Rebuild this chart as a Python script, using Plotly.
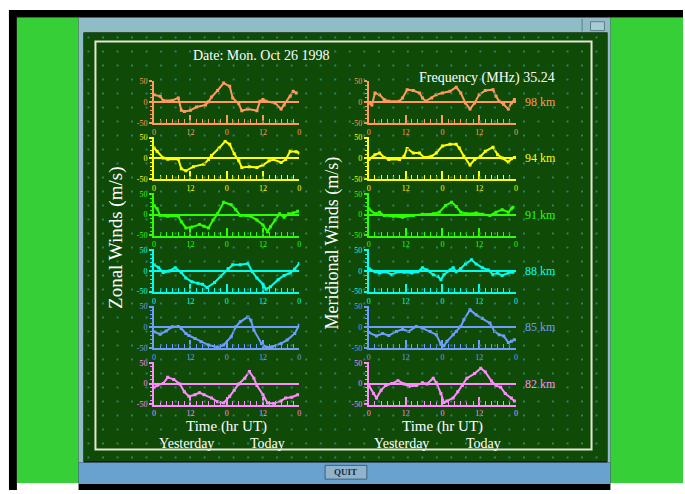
import numpy as np
import plotly.graph_objects as go

W, H = 685, 494

# ---- data: hours since 00 UT yesterday, winds in m/s ----
heights = ["98 km", "94 km", "91 km", "88 km", "85 km", "82 km"]
colors = ["#ff9a5c", "#ffff00", "#2cff00", "#00ffee", "#6f9cff", "#ff8cff"]
hour_ticks = [0, 12, 24, 36, 48]
hour_labels = ["0", "12", "0", "12", "0"]

z98_t = [0, 2, 3, 6, 8, 9, 10, 12, 14, 17, 18, 19, 21, 23, 25, 26, 28, 29, 31, 34, 35, 36, 37, 40, 42, 43, 45, 46, 47]
z98_u = [18, 14, 4, 4, 10, -20, -23, -20, -12, -7, 1, 12, 28, 46, 38, 10, -4, -21, -17, -21, 2, 6, 2, -2, -17, -7, 14, 26, 22]

z94_t = [0, 1, 3, 4.5, 8, 9, 10.5, 13, 16.5, 18, 19, 21.5, 23.5, 25, 26.5, 28, 29, 31.5, 34, 36, 38, 39.5, 42, 43.5, 45, 47, 48]
z94_u = [25, 17, 1, -2, -2, -25, -30, -20, -14, -3, 7, 25, 41, 34, 11, -6, -22, -20, -22, -16, -6, -3, -10, -3, 17, 16, 13]

z91_t = [0, 1, 2, 4.5, 8, 9, 10.5, 12.5, 15, 16.5, 18, 19.5, 21, 23, 25.5, 27, 28.5, 32, 34, 36, 37.5, 38.5, 40, 41.5, 43, 44.5, 46, 47.5]
z91_u = [22, 14, -2, -4, -4, -17, -32, -30, -24, -28, -32, -13, 2, 30, 24, 12, -2, -4, -13, -25, -41, -29, -13, 2, -6, 2, 4, 8]

z88_t = [0, 1.5, 3, 5, 7, 9, 10.5, 12.5, 14.5, 16, 17.5, 20, 22, 24.5, 26, 28.5, 31, 32.5, 34, 36, 37, 38.5, 41, 43, 45, 46.5, 48]
z88_u = [15, 8, -4, 0, 8, -4, -17, -26, -30, -32, -40, -28, -13, 6, 15, 15, 18, -2, -17, -32, -44, -38, -21, -11, -5, 5, 18]

z85_t = [0, 2, 4, 6, 8, 9, 10.5, 11.5, 13.5, 15.5, 18, 21, 23, 25.5, 27, 28.5, 31, 32, 33, 35.5, 37, 39, 42, 44, 46.5, 48]
z85_u = [-11, -17, -9, 1, 2, -3, -15, -20, -27, -35, -43, -48, -43, -23, 1, 13, 25, 17, -7, -39, -48, -47, -39, -31, -15, 5]

z82_t = [0, 1, 3, 4.5, 6.5, 8.5, 10, 11.5, 13.5, 15, 16.5, 19, 21, 23, 25, 26.5, 28, 30, 31.5, 33, 34, 36, 37.5, 39.5, 42, 43.5, 45.5, 47.5]
z82_u = [-9, -5, 0, 15, 10, -1, -20, -31, -27, -22, -27, -35, -44, -47, -31, -16, -1, 13, 29, 13, -5, -27, -47, -48, -42, -35, -33, -27]

m98_t = [0, 1, 2, 3.5, 5, 6.5, 10, 11, 12.5, 14.5, 16.5, 17.5, 18.5, 20.5, 22, 24, 26.5, 28.5, 30, 31.5, 33, 34.5, 36, 38, 40.5, 41.5, 42.5, 44, 45.5, 46.5, 47.5]
m98_v = [-2, -7, 22, 18, 6, 2, 2, 10, 30, 28, 22, 10, 2, 10, 18, 22, 26, 36, 22, -2, -17, -2, 18, 28, 30, 14, 2, -6, -17, -2, 6]

m94_t = [0, 2, 3.5, 5, 6.5, 10, 11.5, 12.5, 14.5, 16.5, 18, 20.5, 22, 24, 26.5, 28.5, 29.5, 31, 33, 34.5, 36.5, 38, 40.5, 42, 43.5, 45.5, 46.5, 47.5]
m94_v = [-3, 9, 13, 2, -3, -3, 5, 24, 13, 13, 2, 5, 13, 30, 34, 34, 25, 5, -16, -3, 5, 17, 27, 9, 1, -9, -1, 2]

m91_t = [0, 2, 3.5, 5, 8, 11, 14.5, 17.5, 21, 23, 25, 27, 28.5, 30, 32, 35, 37, 39.5, 41.5, 43.5, 45.5, 46.5, 47]
m91_v = [14, 2, 6, -2, -4, -6, -2, 1, 2, 6, 22, 30, 20, 6, 2, 4, 1, -2, 6, 12, 6, 14, 18]

m88_t = [0, 2, 3.5, 5.5, 7.5, 9.5, 11.5, 14, 16, 17.5, 19, 21, 22.5, 23.5, 24.5, 26.5, 27.5, 28.5, 30, 31.5, 33.5, 35, 37, 39, 40.5, 42, 43.5, 45.5, 47]
m88_v = [6, -2, -5, -2, -9, -2, -3, -5, -2, 8, 2, -9, -13, -21, -9, 2, 8, -2, 6, 17, 27, 17, 8, 2, -9, -5, -11, -5, -3]

m85_t = [0, 2.5, 4.5, 6.5, 9, 11, 13, 15.5, 17.5, 20, 22, 23.5, 24.5, 25.5, 27.5, 28.5, 30, 31, 33, 35, 37, 39.5, 41, 42.5, 44, 45.5, 46.5, 47.5]
m85_v = [-13, -21, -15, -20, -10, -5, -10, 2, -2, -10, -18, -41, -45, -34, -18, -10, 2, 18, 42, 30, 22, 10, -10, -18, -21, -37, -34, -30]

m82_t = [0, 1.5, 2.5, 4, 5.5, 7.5, 9.5, 11.5, 13, 15.5, 17.5, 19, 21, 22, 23.5, 24.5, 25.5, 27.5, 29, 30.5, 32, 34.5, 36.5, 38, 40, 41.5, 43, 44.5, 46.5, 47.5]
m82_v = [-5, -24, -35, -16, -5, 0, 7, -1, -7, -5, 2, -1, 13, 2, -24, -46, -42, -35, -20, -5, 13, 24, 37, 28, 6, -5, -9, -24, -35, -42]

zonal = [(z98_t, z98_u), (z94_t, z94_u), (z91_t, z91_u), (z88_t, z88_u), (z85_t, z85_u), (z82_t, z82_u)]
meridional = [(m98_t, m98_v), (m94_t, m94_v), (m91_t, m91_v), (m88_t, m88_v), (m85_t, m85_v), (m82_t, m82_v)]


def fx(px):
    return px / W


def fy(py):
    return 1 - py / H


SERIF = "Liberation Serif"
BG_OUT = "#37cf37"
PANEL = "#0f4a07"
FRAME = "#e6e6d6"

fig = go.Figure()
layout = dict(
    width=W, height=H, margin=dict(l=0, r=0, t=0, b=0),
    paper_bgcolor="white", plot_bgcolor="rgba(0,0,0,0)",
    showlegend=False, font=dict(family=SERIF, color="white"),
)

# background dot texture on the dark panel
gx, gy = np.meshgrid(np.arange(87, 606, 14.6), np.arange(35, 463, 14.2))
fig.add_trace(go.Scatter(
    x=gx.ravel(), y=gy.ravel(), mode="markers", xaxis="x13", yaxis="y13",
    marker=dict(size=2, color="#2f8069", symbol="square"), hoverinfo="skip"))
layout["xaxis13"] = dict(domain=[0, 1], range=[0, W], visible=False, fixedrange=True)
layout["yaxis13"] = dict(domain=[0, 1], range=[H, 0], visible=False, fixedrange=True)

col_x = [(153, 299), (369, 517)]
row_zero = [100.5 + 57.1 * i for i in range(6)]
YLO, YHI, PXU = -51, 52, 0.42

n = 0
for c, series in enumerate([zonal, meridional]):
    for r, (t, v) in enumerate(series):
        n += 1
        col = colors[r]
        xa, ya = f"xaxis{n}", f"yaxis{n}"
        z = row_zero[r]
        top, bot = z - YHI * PXU, z - YLO * PXU
        fig.add_trace(go.Scatter(
            x=t, y=v, mode="lines+markers", xaxis=f"x{n}", yaxis=f"y{n}",
            line=dict(color=col, width=2), marker=dict(color=col, size=3, symbol="square"),
            hoverinfo="skip"))
        layout[xa] = dict(
            domain=[fx(col_x[c][0]), fx(col_x[c][1])], anchor=f"y{n}", range=[0, 48],
            showline=True, linecolor=col, linewidth=2, showgrid=False, zeroline=False,
            tickmode="array", tickvals=hour_ticks, ticktext=hour_labels,
            ticks="inside", ticklen=8, tickwidth=1.5, tickcolor=col,
            tickfont=dict(family=SERIF, size=8, color=col),
            minor=dict(tickmode="linear", tick0=0, dtick=2, ticks="inside", ticklen=4,
                       tickwidth=1, tickcolor=col, showgrid=False),
            fixedrange=True)
        layout[ya] = dict(
            domain=[fy(bot), fy(top)], anchor=f"x{n}", range=[YLO, YHI],
            showline=True, linecolor=col, linewidth=2, showgrid=False,
            zeroline=True, zerolinecolor=col, zerolinewidth=1.5,
            tickmode="array", tickvals=[-50, 0, 50], ticktext=["-50", "0", "50"],
            ticks="outside", ticklen=3, tickwidth=1.5, tickcolor=col,
            tickfont=dict(family=SERIF, size=8, color=col),
            minor=dict(tickmode="linear", tick0=0, dtick=10, ticks="outside", ticklen=2,
                       tickwidth=1, tickcolor=col, showgrid=False),
            fixedrange=True)

shapes = []


def rect(x0, y0, x1, y1, fill=None, line=None, lw=0):
    shapes.append(dict(type="rect", xref="paper", yref="paper", layer="below",
                       x0=fx(x0), x1=fx(x1), y0=fy(y1), y1=fy(y0),
                       fillcolor=fill or "rgba(0,0,0,0)",
                       line=dict(color=line or "rgba(0,0,0,0)", width=lw)))


# screen frame, desktop and window
rect(7, 7, W, 15, fill="black")
rect(7, 7, 15, H, fill="black")
rect(15, 15, W, 487, fill=BG_OUT)
rect(77, 15, 612, H, fill="black")
rect(77, 15, 612, 30, fill="#8fbcc6")
rect(583, 16, 584, 29, fill="#5d7e88")
rect(592, 19, 606, 28, fill="#a9cbd3", line="#5d7e88", lw=1)
rect(77, 29, 82, 466, fill="#8fbcc6")
rect(609, 29, 612, 466, fill="#8fbcc6")
rect(82, 30, 609, 465, fill=PANEL)
rect(77, 466, 612, 488, fill="#6aa2cf")
rect(325, 469, 367, 483, fill="#8fb4cc", line="#3d5f7a", lw=1)
rect(94, 39, 593, 453, line=FRAME, lw=2)

ann = []


def text(x, y, s, size=13, color="white", xanchor="center", angle=0, weight="normal"):
    ann.append(dict(x=fx(x), y=fy(y), xref="paper", yref="paper", text=s, showarrow=False,
                    xanchor=xanchor, yanchor="middle", textangle=angle,
                    font=dict(family=SERIF, size=size, color=color, weight=weight)))


text(261, 53, "Date: Mon. Oct 26 1998", 14)
text(558, 76, "Frequency (MHz) 35.24", 14, xanchor="right")
for r, h in enumerate(heights):
    text(524, row_zero[r], h, 12, colors[r], xanchor="left")
text(114, 238, "Zonal Winds (m/s)", 19, angle=-90)
text(332, 244, "Meridional Winds (m/s)", 18, angle=-90)
for c, (x0, x1) in enumerate(col_x):
    mid = (x0 + x1) / 2
    text(mid, 430, "Time (hr UT)", 15)
    text(x0 + 0.22 * (x1 - x0), 447, "Yesterday", 14)
    text(x0 + 0.78 * (x1 - x0), 447, "Today", 14)
text(346, 476, "QUIT", 9, "#1c2a3a", weight="bold")

layout["shapes"] = shapes
layout["annotations"] = ann
fig.update_layout(**layout)
fig.write_html("out.html")
